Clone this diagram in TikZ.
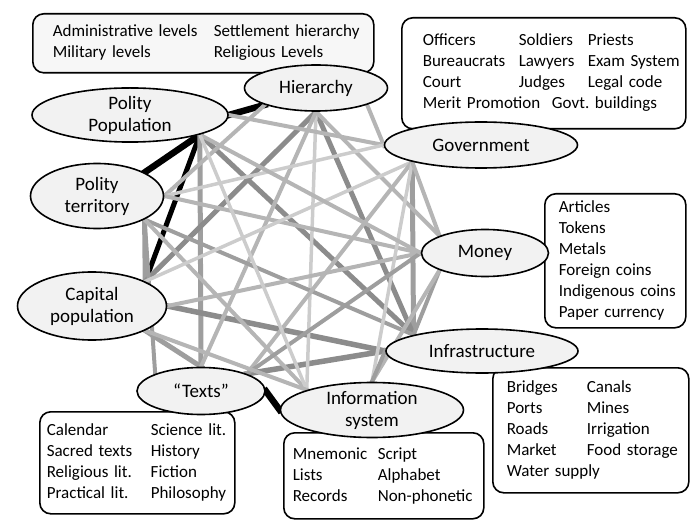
\documentclass[tikz,border=0pt]{standalone}
\usepackage{fontspec}
\setmainfont{Carlito}
\usepackage{tikz}
\usetikzlibrary{shapes.geometric,backgrounds}
\frenchspacing

\definecolor{bubblefill}{gray}{0.95}
\definecolor{linkdark}{gray}{0.55}
\definecolor{linkmid}{gray}{0.62}
\definecolor{linklight}{gray}{0.71}
\definecolor{linkpale}{gray}{0.8}

\begin{document}
\begin{tikzpicture}[x=1pt,y=-1pt,
    bubble/.style={ellipse,draw,line width=1.6pt,fill=bubblefill,inner sep=0pt,
      align=center,font=\fontsize{19}{22}\selectfont},
    listbox/.style={draw,line width=1.6pt,rounded corners=11pt,fill=white,inner sep=0pt,
      anchor=north west,align=left,font=\fontsize{17}{21}\selectfont},
    link/.style={shorten <=-3pt,shorten >=-3pt},
    strong/.style={link,line width=6.5pt,black},
    darklink/.style={link,line width=5.5pt,linkdark},
    midlink/.style={link,line width=5pt,linkmid},
    lightlink/.style={link,line width=4pt,linklight},
    palelink/.style={link,line width=3.5pt,linkpale}]
      \useasboundingbox (0,0) rectangle (700,526);

      % lists
      \node[listbox,fill=bubblefill!60,text width=341pt,minimum height=59pt] (hierbox) at (32,13)
        {\hspace*{20pt}\begin{tabular}{@{}p{161pt}@{}l@{}}
          Administrative levels & Settlement hierarchy\\
          Military levels & Religious Levels
        \end{tabular}};
      \node[listbox,text width=284pt,minimum height=111pt] (govtbox) at (401,17)
        {\hspace*{21pt}\begin{tabular}{@{}p{96pt}@{}p{69pt}@{}l@{}}
          Officers & Soldiers & Priests\\
          Bureaucrats & Lawyers & Exam System\\
          Court & Judges & Legal code\\
          \multicolumn{3}{@{}l@{}}{Merit Promotion\hspace{6pt} Govt. buildings}
        \end{tabular}};
      \node[listbox,text width=141pt,minimum height=134pt] (moneybox) at (544,193)
        {\hspace*{14pt}\begin{tabular}{@{}l@{}}
          Articles\\ Tokens\\ Metals\\ Foreign coins\\ Indigenous coins\\ Paper currency
        \end{tabular}};
      \node[listbox,text width=196pt,minimum height=125pt] (infrabox) at (492,367)
        {\hspace*{14pt}\begin{tabular}{@{}p{80pt}@{}l@{}}
          Bridges & Canals\\
          Ports & Mines\\
          Roads & Irrigation\\
          Market & Food storage\\
          \multicolumn{2}{@{}l@{}}{Water supply}
        \end{tabular}};
      \node[listbox,text width=195pt,minimum height=102pt] (textsbox) at (39,411)
        {\hspace*{7pt}\begin{tabular}{@{}p{104pt}@{}l@{}}
          Calendar & Science lit.\\
          Sacred texts & History\\
          Religious\ lit. & Fiction\\
          Practical lit. & Philosophy
        \end{tabular}};
      \node[listbox,text width=200pt,minimum height=86pt] (infobox) at (283,432)
        {\hspace*{9pt}\begin{tabular}{@{}p{85pt}@{}l@{}}
          Mnemonic & Script\\
          Lists & Alphabet\\
          Records & Non-phonetic
        \end{tabular}};

      % variables
      \node[bubble,minimum width=143pt,minimum height=46pt] (hier) at (316,88) {Hierarchy};
      \node[bubble,minimum width=196pt,minimum height=54pt] (polpop) at (130,115) {Polity\\Population};
      \node[bubble,minimum width=193pt,minimum height=46pt] (govt) at (481,145) {Government};
      \node[bubble,minimum width=133pt,minimum height=65pt] (polterr) at (97,196) {Polity\\territory};
      \node[bubble,minimum width=127pt,minimum height=47pt] (money) at (485,253) {Money};
      \node[bubble,minimum width=149pt,minimum height=68pt] (cappop) at (92,306) {Capital\\population};
      \node[bubble,minimum width=192pt,minimum height=44pt] (infra) at (482,351) {Infrastructure};
      \node[bubble,minimum width=128pt,minimum height=47pt] (texts) at (201,391) {“Texts”};
      \node[bubble,minimum width=183pt,minimum height=55pt] (infosys) at (372,410) {Information\\system};

      \begin{scope}[on background layer]
      \path
      (hier.south west) edge[strong] (polpop.east)
      (polpop.south east) edge[strong] (polterr.north east)
      (polpop.south east) edge[strong,line width=5pt] (cappop.north east)
      (texts.east) edge[strong] (infosys.west)

      (polpop.south east) edge[midlink] (texts.north)
      (polterr.south east) edge[midlink] (cappop.north east)
      (govt.south west) edge[midlink] (infra.north west)
      (cappop.south east) edge[midlink] (texts.north)

      (hier.south) edge[darklink,line width=5pt] (cappop.north east)
      (hier.south) edge[darklink,line width=5pt] (infra.north west)
      (polpop.south east) edge[darklink,line width=5pt] (infra.north west)
      (cappop.east) edge[darklink] (infra.west)
      (texts.north east) edge[darklink] (infra.west)

      (hier.south) edge[palelink] (infosys.north west)
      (hier.south east) edge[lightlink] (govt.west)
      (polpop.east) edge[lightlink] (govt.west)
      (hier.south) edge[lightlink] (money.north west)
      (hier.south) edge[lightlink] (texts.north)
      (hier.south west) edge[lightlink] (polterr.east)
      (polterr.east) edge[palelink] (govt.west)
      (polterr.east) edge[lightlink] (money.west)
      (polterr.south east) edge[lightlink,linkmid] (infra.north west)
      (polterr.south east) edge[lightlink,linkmid] (texts.north west)
      (polterr.south east) edge[lightlink] (infosys.north west)
      (cappop.east) edge[lightlink] (money.west)
      (cappop.north east) edge[palelink] (govt.south west)
      (govt.south west) edge[lightlink] (texts.north east)
      (govt.south west) edge[palelink] (infosys.north)
      (govt.south west) edge[lightlink] (money.north west)
      (money.south west) edge[lightlink,linkmid] (infra.north west)
      (money.west) edge[lightlink,linkmid] (texts.north east)
      (money.south west) edge[lightlink] (infosys.north)
      (polpop.south east) edge[lightlink] (money.west)
      (polpop.south east) edge[palelink] (infosys.north west)
      (cappop.south east) edge[lightlink] (infosys.north west)
      (infra.west) edge[lightlink,linkmid] (infosys.north)
      ;
      \end{scope}
\end{tikzpicture}
\end{document}
